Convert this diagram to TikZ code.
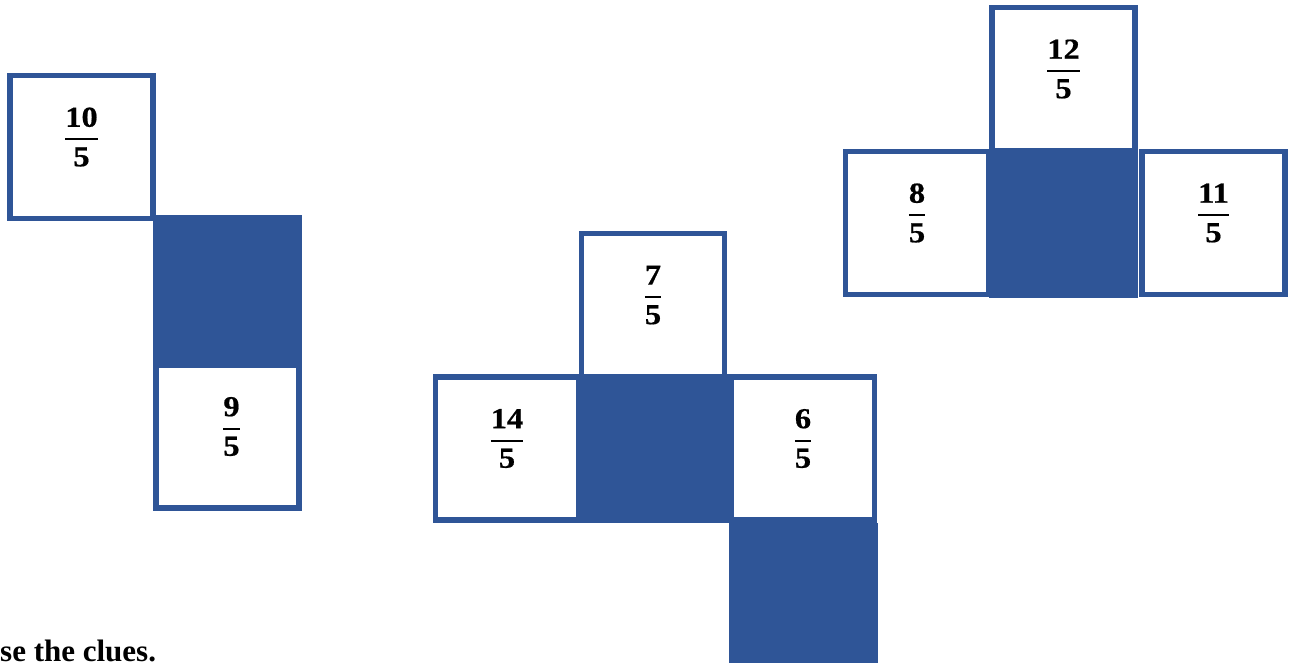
\RequirePackage{fix-cm}
\documentclass[tikz,border=0pt]{standalone}
\usepackage{amsmath}
\usepackage{fontspec}
\setmainfont{Liberation Serif}
\newfontfamily\digitfont[FakeStretch=1.12, FakeBold=0.6]{Liberation Serif}
\usepackage{xcolor}
\usepackage{tikz}
\usetikzlibrary{positioning}

\definecolor{netblue}{RGB}{47,85,151}
\tikzset{
  face/.style={rectangle, draw=netblue, line width=5.5pt, fill=white, minimum size=143pt, inner sep=0pt},
  darkface/.style={rectangle, fill=netblue, minimum size=149pt, inner sep=0pt},
  value/.style={inner sep=0pt, font=\fontsize{29}{35}\selectfont, yshift=10pt},
}
\newcommand{\fifths}[1]{$\displaystyle\genfrac{}{}{2pt}{0}{\text{\digitfont\bfseries #1}}{\text{\digitfont\bfseries 5}}$}

\begin{document}
\begin{tikzpicture}[x=1pt, y=-1pt]
  \useasboundingbox (0,0) rectangle (1292,662);

  % left net
  \node[face] (a1) at (81.5,147) {};
  \node[face] (a3) at (227.5,436.5) {};
  \node[darkface] (a2) at (227.5,289) {};
  \node[value] (v10) at (a1.center) {\fifths{10}};
  \node[value] (v9) at ([xshift=4pt]a3.center) {\fifths{9}};

  % middle net
  \node[face] (b1) at (653,305) {};
  \node[face] (b2) at (507,448.5) {};
  \node[face] (b4) at (803,448.5) {};
  \node[darkface] (b3) at (654,448.5) {};
  \node[darkface] (b5) at (803,597) {};
  \node[value] (v7) at (b1.center) {\fifths{7}};
  \node[value] (v14) at (b2.center) {\fifths{14}};
  \node[value] (v6) at (b4.center) {\fifths{6}};

  % right net
  \node[face] (c1) at (1063.5,79) {};
  \node[face] (c2) at (917,223) {};
  \node[face] (c4) at (1213.5,223) {};
  \node[darkface] (c3) at (1063.5,223) {};
  \node[value] (v12) at (c1.center) {\fifths{12}};
  \node[value] (v8) at (c2.center) {\fifths{8}};
  \node[value] (v11) at (c4.center) {\fifths{11}};

  \node[anchor=base west, inner sep=0pt, font=\bfseries\fontsize{31}{37}\selectfont] (clue) at (0,661) {se the clues.};
\end{tikzpicture}
\end{document}
